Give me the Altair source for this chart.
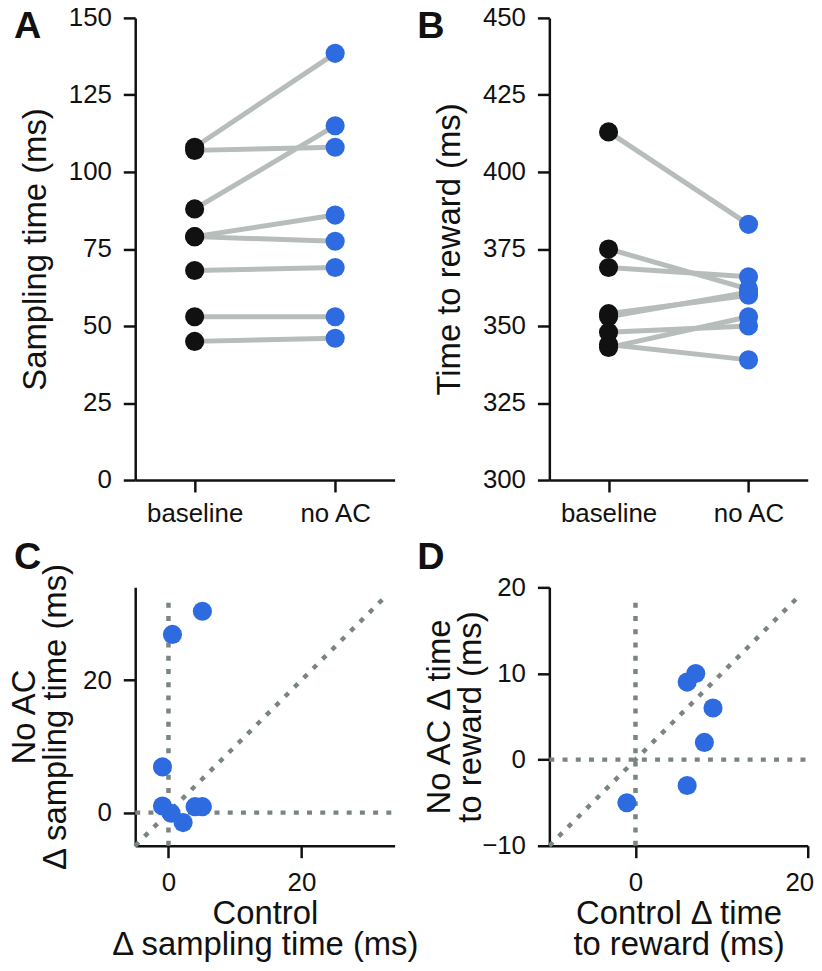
import altair as alt
import pandas as pd

FONT = "Liberation Sans"
BLUE = "#2e6be0"
BLACK = "#111111"
LINE_GRAY = "#b7bdba"
DOT_GRAY = "#7a8582"

conditions = ["baseline", "no AC"]

# Panel A: sampling time (ms)
a_baseline = [108, 107, 88, 79, 79, 68, 53, 45]
a_noac = [138.5, 108, 115, 86, 77.5, 69, 53, 46]
a_ticks = [0, 25, 50, 75, 100, 125, 150]

# Panel B: time to reward (ms)
b_baseline = [413, 375, 369, 354, 353, 348, 344, 343]
b_noac = [383, 362, 366, 360, 361, 350, 339, 353]
b_ticks = [300, 325, 350, 375, 400, 425, 450]

# Panel C: delta sampling time
c_control = [5.1, 0.6, -0.9, -0.9, 0.4, 2.2, 4.0, 5.1]
c_noac = [30.4, 26.9, 6.9, 1.0, -0.1, -1.5, 0.9, 0.9]
c_ticks = [0, 20]
c_ref_x = [-5, 0, -5]
c_ref_y = [-5, -5, 0]
c_ref_x2 = [33, 0, 34]
c_ref_y2 = [33, 32.6, 0]

# Panel D: delta time to reward
d_control = [7, 6, 9, 8, 6, -1]
d_noac = [10, 9, 6, 2, -3, -5]
d_xticks = [0, 20]
d_yticks = [-10, 0, 10, 20]
d_ref_x = [-10, 0, -10]
d_ref_y = [-10, -10, 0]
d_ref_x2 = [19.3, 0, 20]
d_ref_y2 = [19.3, 19, 0]


def letter_layer(letter, lx, ly):
    return alt.Chart(pd.DataFrame({"t": [letter]})).mark_text(
        align="left", baseline="alphabetic", fontSize=38, fontWeight="bold",
        font=FONT, color=BLACK
    ).encode(text="t:N", x=alt.value(lx), y=alt.value(ly))


def paired(base, noac, ydom, yticks, title, letter, lx, ly, width):
    rows = []
    for i, (b, n) in enumerate(zip(base, noac)):
        rows.append({"id": i, "cond": "baseline", "v": b})
        rows.append({"id": i, "cond": "no AC", "v": n})
    df = pd.DataFrame(rows)
    x = alt.X("cond:N", sort=conditions,
              scale=alt.Scale(type="point", padding=0.423),
              axis=alt.Axis(title=None, labelAngle=0, labelPadding=9))
    y = alt.Y("v:Q", scale=alt.Scale(domain=ydom, nice=False, zero=False),
              axis=alt.Axis(values=yticks, title=title, titleX=-83))
    lines = alt.Chart(df).mark_line(color=LINE_GRAY, strokeWidth=5).encode(
        x=x, y=y, detail="id:N")
    pts = alt.Chart(df).mark_circle(size=370, opacity=1).encode(
        x=x, y=y,
        color=alt.Color("cond:N", scale=alt.Scale(domain=conditions, range=[BLACK, BLUE]),
                        legend=None))
    return alt.layer(lines, pts, letter_layer(letter, lx, ly)).properties(
        width=width, height=465)


def scatter(xv, yv, rx, ry, rx2, ry2, dom_x, dom_y, xticks, yticks,
            xtitle, ytitle, ytitle_x, letter, lx, ly, width, flush_offset):
    df = pd.DataFrame({"x": xv, "y": yv})
    ref = pd.DataFrame({"x": rx, "y": ry, "x2": rx2, "y2": ry2})
    xs = alt.Scale(domain=dom_x, nice=False, zero=False)
    ys = alt.Scale(domain=dom_y, nice=False, zero=False)
    xa = alt.Axis(values=xticks, title=xtitle, titleY=52, labelPadding=12,
                  labelFlush=1, labelFlushOffset=flush_offset)
    ya = alt.Axis(values=yticks, title=ytitle, titleX=ytitle_x)
    rules = alt.Chart(ref).mark_rule(
        color=DOT_GRAY, strokeWidth=4.5, strokeDash=[5, 8.3], strokeCap="butt"
    ).encode(
        x=alt.X("x:Q", scale=xs, axis=xa), y=alt.Y("y:Q", scale=ys, axis=ya),
        x2="x2:Q", y2="y2:Q")
    pts = alt.Chart(df).mark_circle(size=370, opacity=1, color=BLUE).encode(
        x=alt.X("x:Q", scale=xs, axis=xa), y=alt.Y("y:Q", scale=ys, axis=ya))
    return alt.layer(rules, pts, letter_layer(letter, lx, ly)).properties(
        width=width, height=260)


chart_a = paired(a_baseline, a_noac, [0, 150], a_ticks, "Sampling time (ms)",
                 "A", -122, 20, 261)
chart_b = paired(b_baseline, b_noac, [300, 450], b_ticks, "Time to reward (ms)",
                 "B", -133, 20, 260)
chart_c = scatter(c_control, c_noac, c_ref_x, c_ref_y, c_ref_x2, c_ref_y2,
                  [-5, 34], [-5, 34], c_ticks, c_ticks,
                  ["Control", "Δ sampling time (ms)"],
                  ["No AC", "Δ sampling time (ms)"], -94, "C", -122, -18, 261, 0)
chart_d = scatter(d_control, d_noac, d_ref_x, d_ref_y, d_ref_x2, d_ref_y2,
                  [-10, 20], [-10, 20], d_xticks, d_yticks,
                  ["Control Δ time", "to reward (ms)"],
                  ["No AC Δ time", "to reward (ms)"], -93, "D", -133, -18, 260, 6)

chart = alt.concat(
    chart_a, chart_b, chart_c, chart_d, columns=2,
    spacing={"row": 108, "column": 155.7}, bounds="flush"
).properties(
    padding={"left": 0, "top": -6, "right": 0, "bottom": -2}
).configure_view(stroke=None).configure_axis(
    grid=False,
    domainColor=BLACK, domainWidth=2.5,
    tickColor=BLACK, tickWidth=2.5, tickSize=12,
    labelFont=FONT, labelFontSize=26, labelColor=BLACK, labelPadding=12,
    titleFont=FONT, titleFontSize=33, titleFontWeight="normal", titleColor=BLACK,
    titleLineHeight=31, labelFlush=False, labelOverlap=False
)

chart.save("out.html", embed_options={"renderer": "svg", "actions": False})
